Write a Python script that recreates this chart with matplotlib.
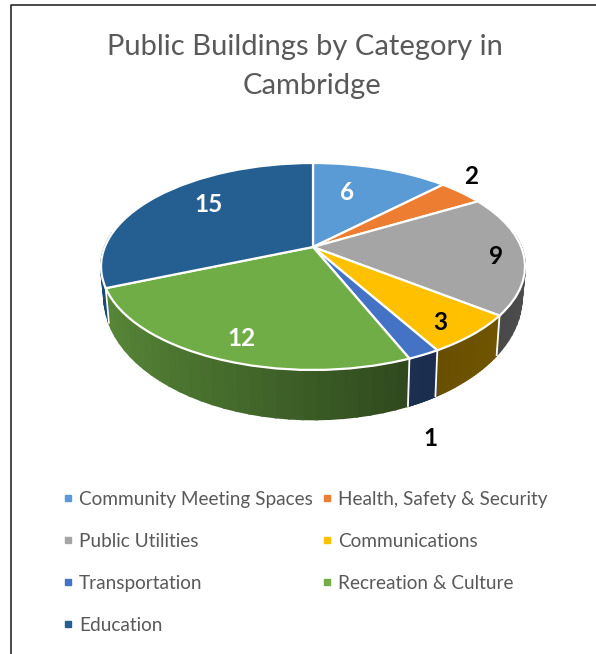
import numpy as np
import matplotlib
matplotlib.use('Agg')
import matplotlib.pyplot as plt
from matplotlib.colors import to_rgb
from matplotlib.lines import Line2D
from matplotlib.transforms import Transform

plt.rcParams['font.family'] = ['Lato', 'DejaVu Sans']

title_lines = ['Public Buildings by Category in', 'Cambridge']
categories = ['Community Meeting Spaces', 'Health, Safety & Security', 'Public Utilities',
              'Communications', 'Transportation', 'Recreation & Culture', 'Education']
values = [6, 2, 9, 3, 1, 12, 15]
colors = ['#5B9BD5', '#ED7D31', '#A5A5A5', '#FFC000', '#4472C4', '#70AD47', '#255E91']

# where the numbers sit, in pixels of the picture
label_xy = [(347, 193), (471, 177), (496, 256), (440, 323), (430, 438), (241, 339), (209, 205)]
label_colors = ['white', 'black', 'black', 'black', 'black', 'white', 'white']


# perspective view of the unit circle, output is in picture pixels
class Tilt(Transform):
    input_dims = 2
    output_dims = 2
    is_affine = False
    has_inverse = False

    def __init__(self, sx, sy, drop):
        super().__init__()
        self.sx = sx
        self.sy = sy
        self.drop = drop

    def transform_non_affine(self, xy):
        xy = np.asarray(xy, dtype=float)
        w = 1 + 0.188 * xy[:, 1]
        return np.column_stack((313 + self.sx * xy[:, 0] / w,
                                247 + self.drop - self.sy * xy[:, 1] / w))


top = Tilt(208.2, 99.8, 0)
bottom = Tilt(205, 118, 27)

fig = plt.figure(figsize=(5.96, 6.54), dpi=100)
ax = fig.add_axes([0, 0, 1, 1])

wedges, _ = ax.pie(values, colors=colors, startangle=90, counterclock=False,
                   wedgeprops={'edgecolor': 'white', 'linewidth': 1.6})
ax.set_aspect('auto')
ax.set_xlim(0, 596)
ax.set_ylim(654, 0)
for w in wedges:
    w.set_transform(top + ax.transData)
    w.set_zorder(3)

# side wall, cut in strips so it can darken from left to right
edges = np.cumsum([0] + values) / sum(values) * 2 * np.pi
for i, col in enumerate(colors):
    phi = np.linspace(edges[i], edges[i + 1], 30)
    phi = phi[np.cos(phi) < 0.15]
    for a, b in zip(phi[:-1], phi[1:]):
        pts = np.array([[np.sin(a), np.cos(a)], [np.sin(b), np.cos(b)]])
        up = top.transform(pts)
        down = bottom.transform(pts)
        shade = np.interp(pts[:, 0].mean(), [-1, 0.45, 1], [0.8, 0.4, 0.47])
        c = np.array(to_rgb(col)) * shade
        ax.fill([up[0, 0], up[1, 0], down[1, 0], down[0, 0]],
                [up[0, 1], up[1, 1], down[1, 1], down[0, 1]],
                facecolor=c, edgecolor=c, linewidth=1.5, zorder=1)

# white seams between the wall pieces
for e in edges[:-1]:
    if np.cos(e) < -0.3:
        pt = np.array([[np.sin(e), np.cos(e)]])
        up = top.transform(pt)[0]
        down = bottom.transform(pt)[0]
        ax.plot([up[0], down[0]], [up[1], down[1]], color='white', lw=1.3, zorder=2)

for (x, y), v, c in zip(label_xy, values, label_colors):
    ax.text(x, y, str(v), color=c, fontsize=17.5, fontweight='bold', ha='center', va='center', zorder=5)

# the two title lines are not centred on the same x in the original
ax.text(305, 47, title_lines[0], color='#595959', fontsize=21, ha='center', va='center')
ax.text(312, 86, title_lines[1], color='#595959', fontsize=21, ha='center', va='center')

# frame of the chart runs off the right and bottom of the picture
ax.plot([596, 11, 11], [5, 5, 654], color='#2a2a2a', lw=1.2, clip_on=False)

# legend fills column by column, the chart reads row by row
order = [0, 2, 4, 6, 1, 3, 5]
handles = [Line2D([], [], linestyle='none', marker='s', markersize=4, color=colors[i]) for i in order]
fig.legend(handles, [categories[i] for i in order], ncol=2, frameon=False,
           loc='upper left', bbox_to_anchor=(60 / 596, 1 - 491 / 654), borderaxespad=0, borderpad=0,
           fontsize=13.7, labelcolor='#595959', labelspacing=1.31, handlelength=0.8,
           handletextpad=0.2, columnspacing=0.32)

fig.savefig('out.png', dpi=100)
